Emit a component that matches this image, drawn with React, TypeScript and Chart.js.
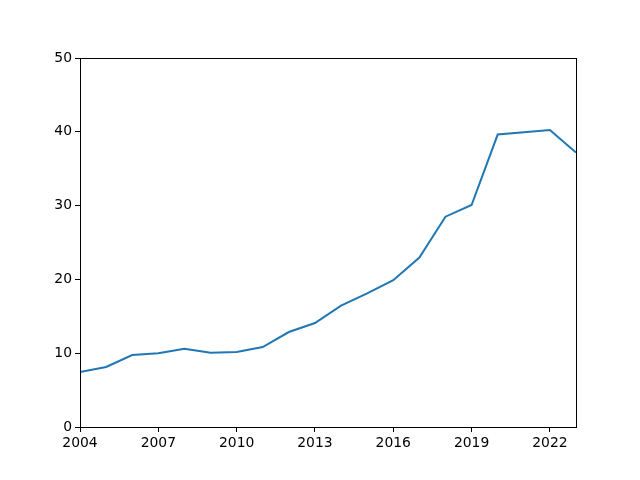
import React, { useEffect, useRef } from "react";
import { Chart, registerables } from "chart.js";

Chart.register(...registerables);

const years = [2004, 2005, 2006, 2007, 2008, 2009, 2010, 2011, 2012, 2013, 2014, 2015, 2016, 2017, 2018, 2019, 2020, 2021, 2022, 2023];
const values = [7.45, 8.13, 9.76, 9.98, 10.6, 10.07, 10.16, 10.84, 12.87, 14.09, 16.45, 18.1, 19.9, 22.95, 28.5, 30.08, 39.63, 39.95, 40.24, 37.2];
const xTicks = [2004, 2007, 2010, 2013, 2016, 2019, 2022];
const yTicks = [0, 10, 20, 30, 40, 50];

const framePlugin = {
  id: "frame",
  afterDraw(chart: any) {
    const { ctx, chartArea } = chart;
    ctx.save();
    ctx.strokeStyle = "#000";
    ctx.lineWidth = 1;
    ctx.strokeRect(
      Math.round(chartArea.left) + 0.5,
      Math.round(chartArea.top) + 0.5,
      Math.round(chartArea.right - chartArea.left),
      Math.round(chartArea.bottom - chartArea.top)
    );
    ctx.restore();
  },
};

export default function App() {
  const ref = useRef<HTMLCanvasElement | null>(null);
  useEffect(() => {
    document.body.style.margin = "0";
    const font = { family: "'DejaVu Sans', sans-serif", size: 13.9 };
    const chart = new Chart(ref.current!, {
      type: "line",
      data: {
        datasets: [
          {
            data: years.map((y, i) => ({ x: y, y: values[i] })),
            borderColor: "#1f77b4",
            borderWidth: 2,
            pointRadius: 0,
            fill: false,
            tension: 0,
          },
        ],
      },
      options: {
        animation: false,
        responsive: false,
        devicePixelRatio: 1,
        layout: { padding: { left: 0, top: 58, right: 64, bottom: 0 } },
        plugins: { legend: { display: false }, tooltip: { enabled: false } },
        scales: {
          x: {
            type: "linear",
            min: 2004,
            max: 2023,
            grid: { drawOnChartArea: false, drawTicks: true, tickLength: 5, color: "#000" },
            border: { display: false },
            ticks: { color: "#000", font, padding: 3, maxRotation: 0, callback: (v: any) => String(v) },
            afterBuildTicks: (s: any) => {
              s.ticks = xTicks.map((v) => ({ value: v }));
            },
            afterFit: (s: any) => {
              s.height = 53;
            },
          },
          y: {
            min: 0,
            max: 50,
            grid: { drawOnChartArea: false, drawTicks: true, tickLength: 5, color: "#000" },
            border: { display: false },
            ticks: { color: "#000", font, padding: 3, callback: (v: any) => String(v) },
            afterBuildTicks: (s: any) => {
              s.ticks = yTicks.map((v) => ({ value: v }));
            },
            afterFit: (s: any) => {
              s.width = 80;
            },
          },
        },
      },
      plugins: [framePlugin],
    });
    return () => chart.destroy();
  }, []);
  return (
    <div style={{ position: "absolute", left: 0, top: 0, width: 640, height: 480, background: "#fff" }}>
      <canvas ref={ref} width={640} height={480} style={{ width: 640, height: 480 }} />
    </div>
  );
}
